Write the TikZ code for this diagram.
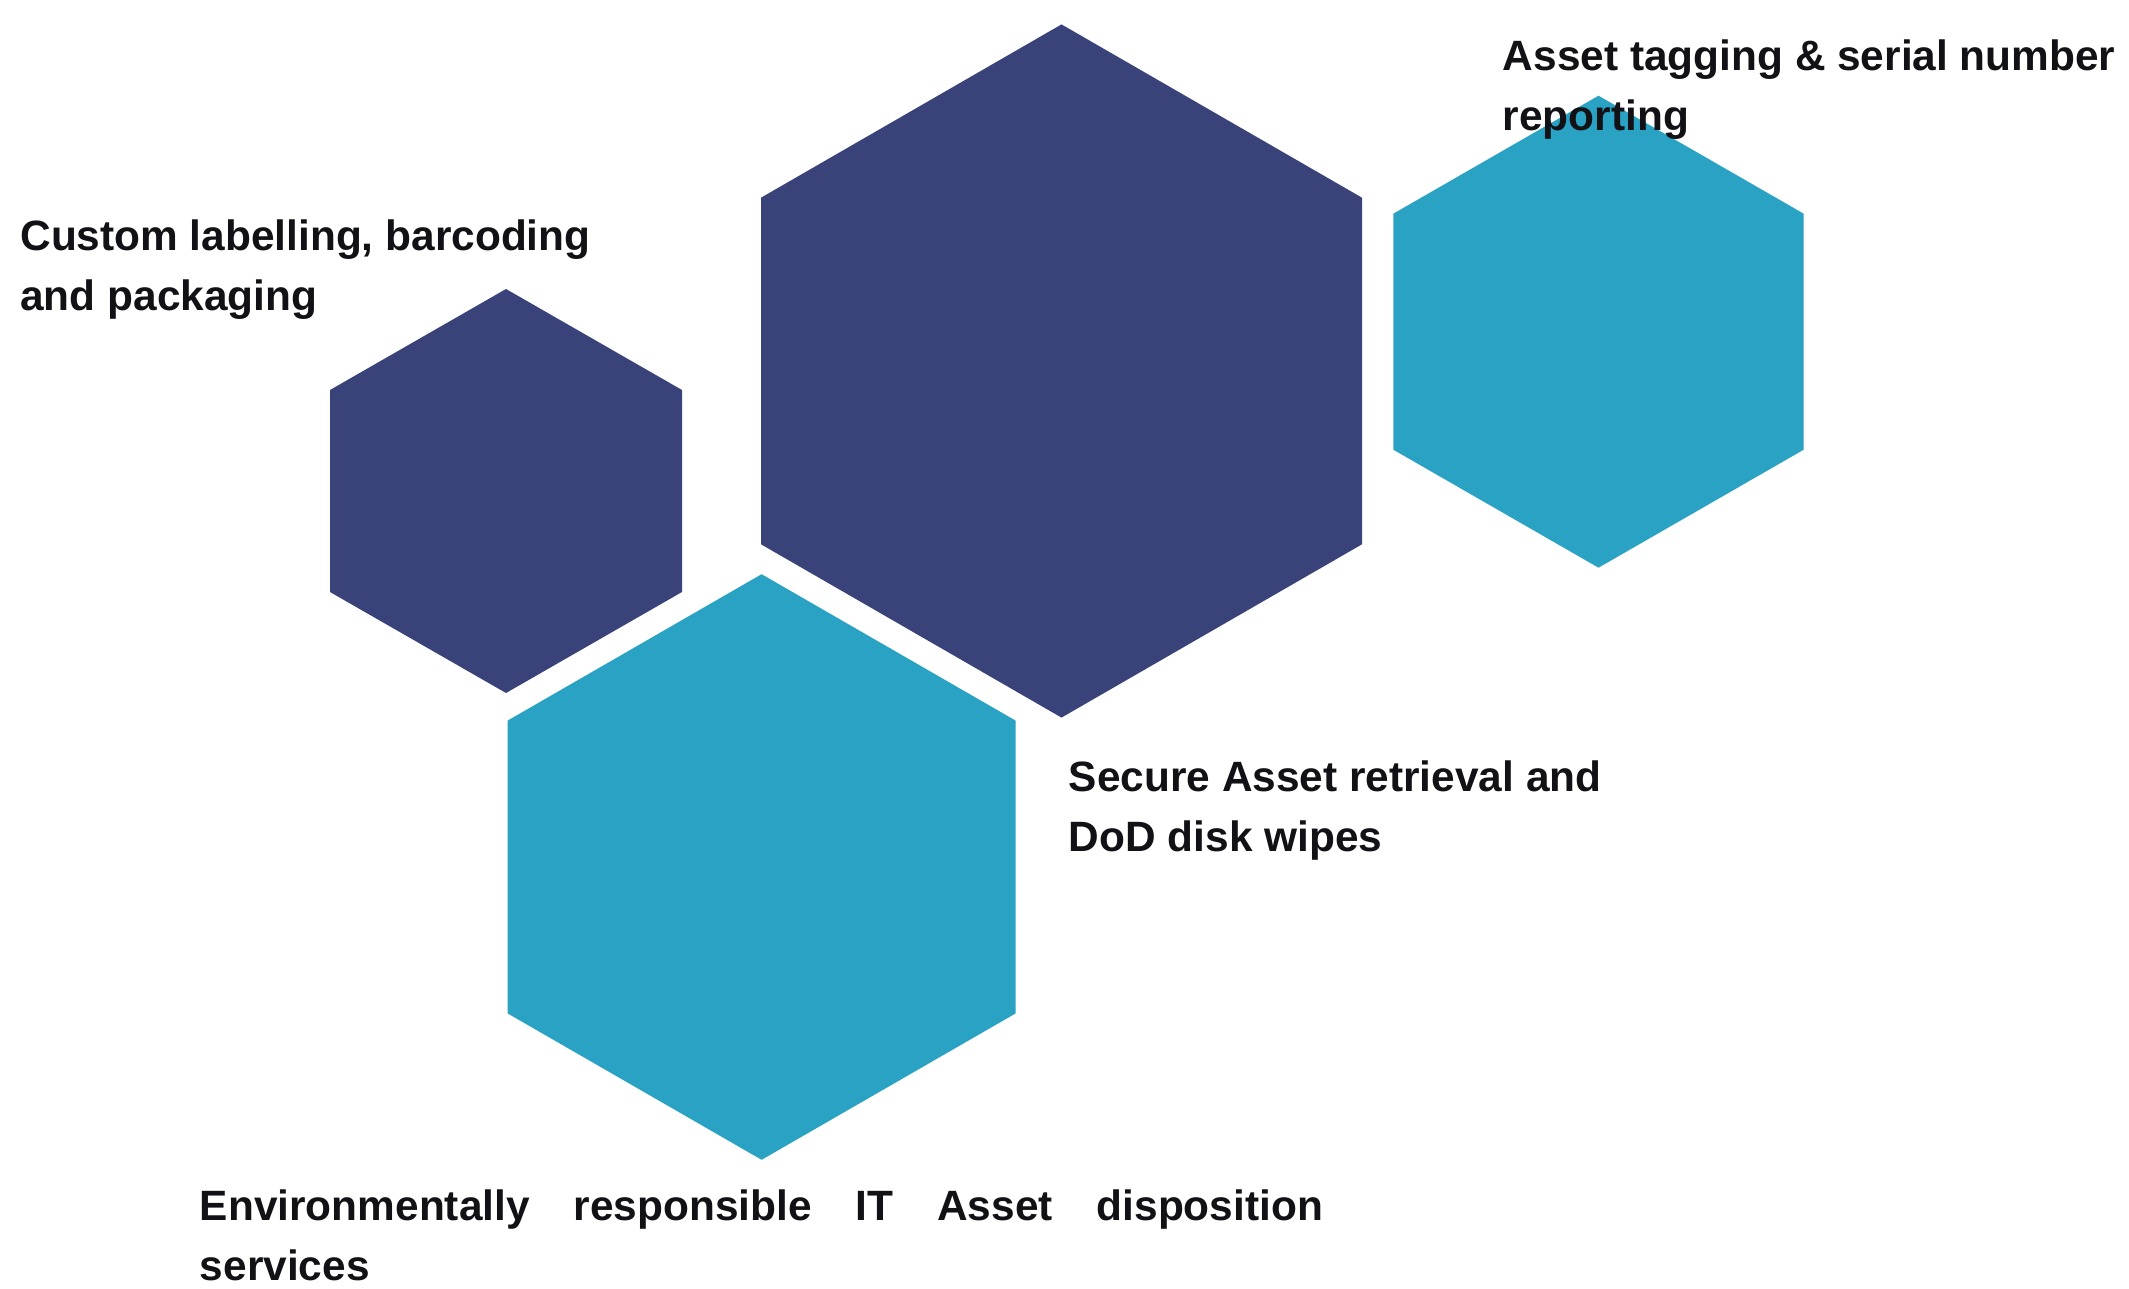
\documentclass[tikz,border=0pt]{standalone}
\usepackage{fontspec}
\setmainfont{Liberation Sans}
\definecolor{hexnavy}{HTML}{39437A}
\definecolor{hexcyan}{HTML}{2AA2C4}
\definecolor{inkblack}{HTML}{111116}

% #1 name, #2 cx, #3 cy, #4 half width, #5 half height, #6 style
\newcommand\hexcell[6]{%
  \coordinate (#1) at (#2,#3);
  \fill[#6] (#2,#3-#5) -- (#2+#4,#3-#5/2) -- (#2+#4,#3+#5/2)
    -- (#2,#3+#5) -- (#2-#4,#3+#5/2) -- (#2-#4,#3-#5/2) -- cycle;
}

\begin{document}
\begin{tikzpicture}[x=0.5pt,y=-0.5pt,
  darkcell/.style={fill=hexnavy},
  lightcell/.style={fill=hexcyan},
  % two-line captions: the base anchor sits on the last line's baseline
  caption/.style={font=\fontsize{21.2pt}{30pt}\selectfont\bfseries,
    text=inkblack, inner sep=0pt, align=left, anchor=base west}]
\useasboundingbox (0,0) rectangle (2129,1289);

% honeycomb cells
\hexcell{small}{506}{491}{176}{202}{darkcell}
\hexcell{large}{1061.5}{371}{300.5}{346.6}{darkcell}
\hexcell{right}{1598.5}{331.7}{205.2}{236}{lightcell}
\hexcell{bottom}{761.6}{867}{254}{292.8}{lightcell}

% captions
\node[caption] (cap-label) at (20,310) {Custom labelling, barcoding\\and packaging};
\node[caption] (cap-tag) at (1502.5,131) {Asset tagging \& serial number\\reporting};
\node[caption] (cap-wipe) at (1068.5,851) {Secure Asset retrieval and\\DoD disk wipes};
\node[caption] (cap-env) at (199.5,1280.5)
  {\makebox[561.5pt][s]{Environmentally responsible IT Asset disposition}\\services};
\end{tikzpicture}
\end{document}
